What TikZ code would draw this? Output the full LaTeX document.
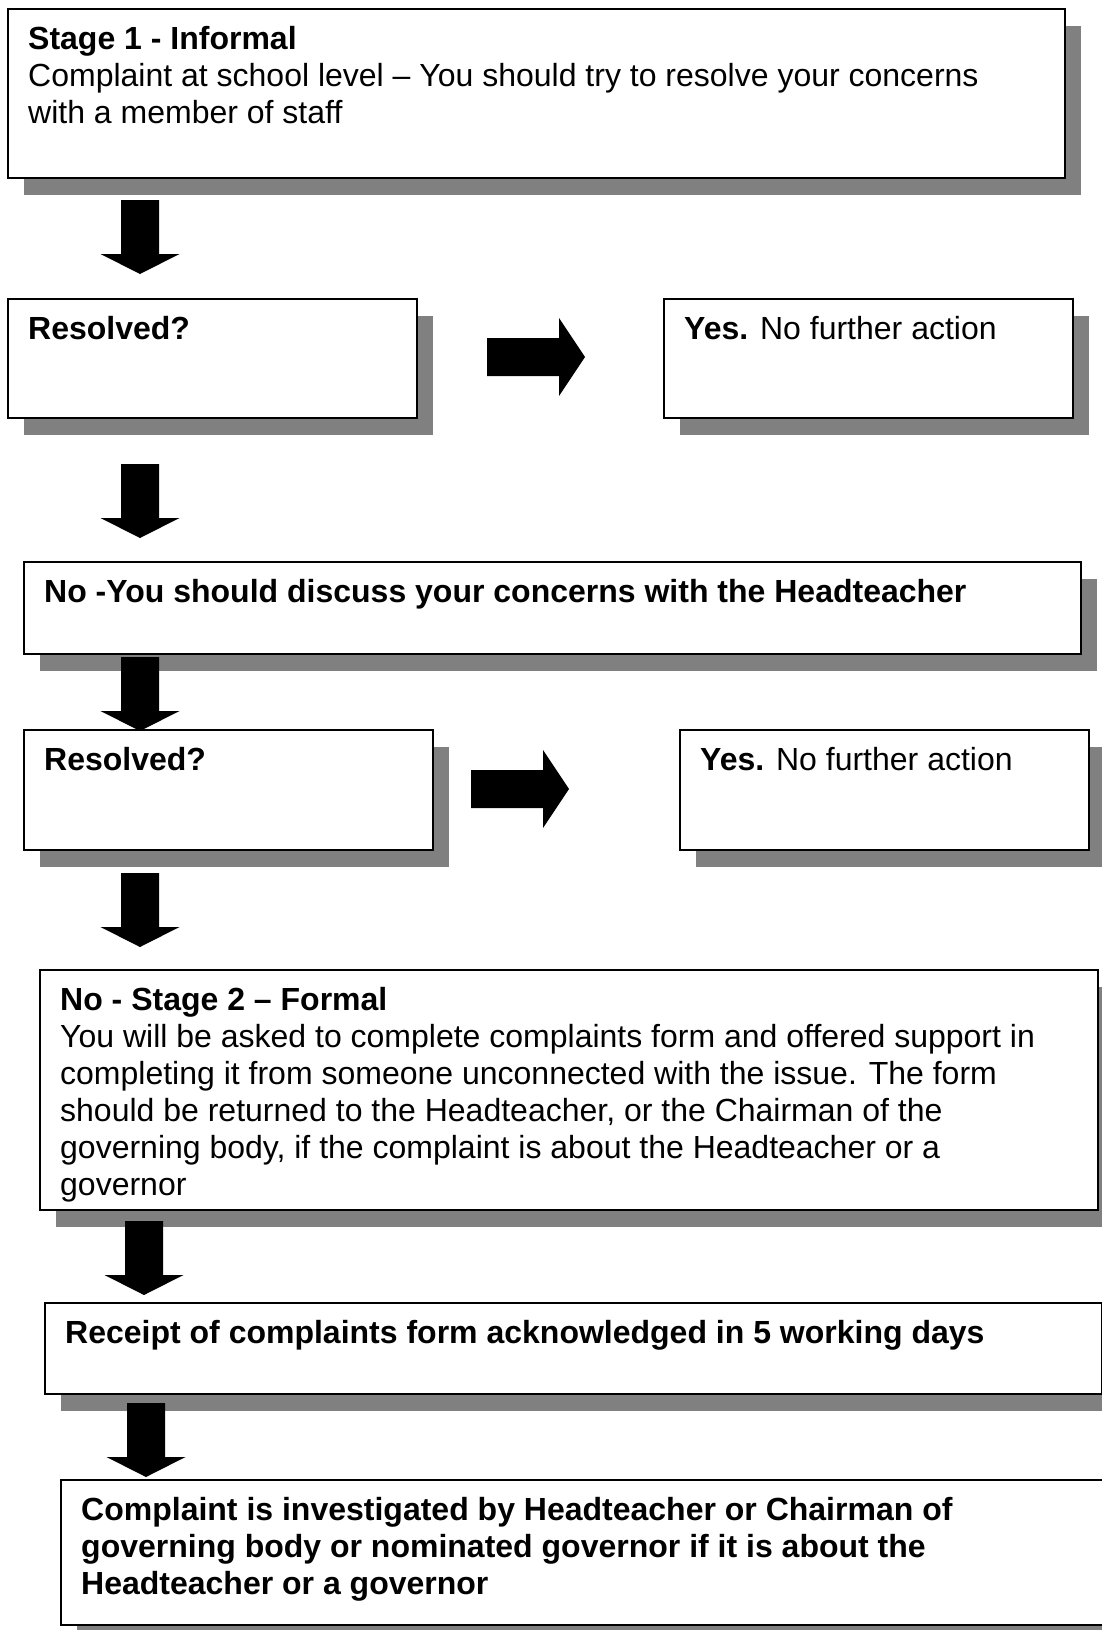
\documentclass[tikz,border=0pt]{standalone}
\usepackage{fontspec}
\setmainfont{Liberation Sans}
\usetikzlibrary{shadows}
\definecolor{shadowgray}{RGB}{128,128,128}
\tikzset{
    box/.style={draw, line width=1.5pt, fill=white, inner sep=0pt, anchor=north west,
        drop shadow={shadow xshift=16pt, shadow yshift=-17pt, fill=shadowgray, opacity=1}},
    boxtext/.style={inner sep=0pt, anchor=north west, align=left, font=\fontsize{32}{37}\selectfont}
}
\newcommand{\boxlabel}[2]{\node[boxtext] (#1text) at ([shift={(21pt,-11pt)}]#1.north west) {\rule{0pt}{30pt}#2};}

\begin{document}
\begin{tikzpicture}[x=1pt, y=-1pt]
    \useasboundingbox (0,0) rectangle (1102,1630);
    \fill[white] (0,0) rectangle (1102,1630);
    \clip (0,0) rectangle (1102,1630);

    % Boxes
    \node[box, minimum width=1057pt, minimum height=169pt] (stageone) at (7,8) {};
    \node[box, minimum width=409pt, minimum height=119pt] (resolvedone) at (7,298) {};
    \node[box, minimum width=409pt, minimum height=119pt] (yesone) at (663,298) {};
    \node[box, minimum width=1057pt, minimum height=92pt] (nohead) at (23,561) {};
    \node[box, minimum width=409pt, minimum height=120pt] (resolvedtwo) at (23,729) {};
    \node[box, minimum width=409pt, minimum height=120pt] (yestwo) at (679,729) {};
    \node[box, minimum width=1058pt, minimum height=240pt] (stagetwo) at (39,969) {};
    \node[box, minimum width=1057pt, minimum height=91pt] (receipt) at (44,1302) {};
    \node[box, minimum width=1057pt, minimum height=145pt] (investigate) at (60,1479) {};

    % Texts
    \boxlabel{stageone}{\textbf{Stage 1 - Informal}\\
        Complaint at school level – You should try to resolve your concerns\\
        with a member of staff}
    \boxlabel{resolvedone}{\textbf{Resolved?}}
    \boxlabel{yesone}{\textbf{Yes.} No further action}
    \boxlabel{nohead}{\textbf{No -You should discuss your concerns with the Headteacher}}
    \boxlabel{resolvedtwo}{\textbf{Resolved?}}
    \boxlabel{yestwo}{\textbf{Yes.} No further action}
    \boxlabel{stagetwo}{\textbf{No - Stage 2 – Formal}\\
        You will be asked to complete complaints form and offered support in\\
        completing it from someone unconnected with the issue. The form\\
        should be returned to the Headteacher, or the Chairman of the\\
        governing body, if the complaint is about the Headteacher or a\\
        governor}
    \boxlabel{receipt}{\textbf{Receipt of complaints form acknowledged in 5 working days}}
    \boxlabel{investigate}{\textbf{Complaint is investigated by Headteacher or Chairman of}\\
        \textbf{governing body or nominated governor if it is about the}\\
        \textbf{Headteacher or a governor}}

    % Down arrows
    \foreach \x/\y in {140/200, 140/464, 140/657, 140/873, 144/1221, 146/1403} {
        \fill (\x-19,\y) -- (\x+19,\y) -- (\x+19,\y+54) -- (\x+39.5,\y+54)
            -- (\x,\y+74) -- (\x-39.5,\y+54) -- (\x-19,\y+54) -- cycle;
    }

    % Right arrows
    \foreach \x/\y in {487/357, 471/789} {
        \fill (\x,\y-19) -- (\x+72,\y-19) -- (\x+72,\y-39) -- (\x+98,\y)
            -- (\x+72,\y+39) -- (\x+72,\y+19) -- (\x,\y+19) -- cycle;
    }
\end{tikzpicture}
\end{document}
